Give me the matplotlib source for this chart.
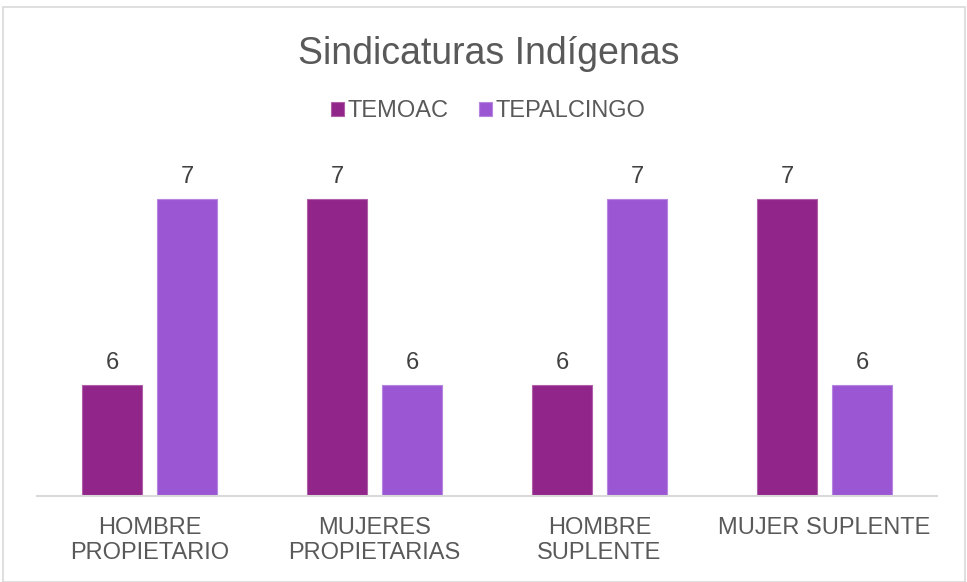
import numpy as np
import matplotlib.pyplot as plt
from matplotlib.patches import Rectangle

# Dane wykresu
kategorie = ["HOMBRE\nPROPIETARIO", "MUJERES\nPROPIETARIAS", "HOMBRE\nSUPLENTE", "MUJER SUPLENTE"]
serie = ["TEMOAC", "TEPALCINGO"]
temoac = [6, 7, 6, 7]
tepalcingo = [7, 6, 7, 6]

kolory = ["#912589", "#9B57D3"]
krawedzie = ["#B060A8", "#B585E0"]
szary = "#595959"

plt.rcParams['font.family'] = ['Liberation Sans', 'DejaVu Sans']

fig = plt.figure(figsize=(9.67, 5.82), dpi=100)
ax = fig.add_axes([37 / 967, 86 / 582, 900 / 967, 334 / 582])

# Ramka wokół całego wykresu
fig.patches.append(Rectangle((3 / 967, 0.0), 962 / 967, 575 / 582, transform=fig.transFigure,
                             fill=False, edgecolor="#D9D9D9", linewidth=1.2))

x = np.arange(len(kategorie))
szer = 0.267
przes = 0.167

for i, (nazwa, wartosci) in enumerate(zip(serie, [temoac, tepalcingo])):
    pozycje = x + (przes if i else -przes)
    slupki = ax.bar(pozycje, wartosci, szer, color=kolory[i], edgecolor=krawedzie[i],
                    linewidth=0.8, label=nazwa)
    for s, w in zip(slupki, wartosci):
        ax.annotate(str(w), (s.get_x() + s.get_width() / 2, w), xytext=(0, 8),
                    textcoords="offset points", ha="center", va="bottom",
                    fontsize=17, color="#404040")

ax.set_xlim(-0.5, 3.5)
ax.set_ylim(5.4, 7.2)
ax.set_xticks(x)
ax.set_xticklabels(kategorie, fontsize=17, color=szary, linespacing=1.2)
ax.tick_params(axis="x", length=0, pad=15)
ax.set_yticks([])
for strona in ["top", "right", "left"]:
    ax.spines[strona].set_visible(False)
ax.spines["bottom"].set_color("#D9D9D9")
ax.spines["bottom"].set_linewidth(1.5)

fig.text(0.505, 1 - 54 / 582, "Sindicaturas Indígenas", ha="center", va="center",
         fontsize=27, color=szary)

fig.legend(loc="center", bbox_to_anchor=(0.505, 1 - 111 / 582), ncol=2, frameon=False,
           fontsize=17, labelcolor=szary, handlelength=0.55, handleheight=0.55,
           handletextpad=0.15, columnspacing=1.3)

plt.savefig("out.png", dpi=100)
